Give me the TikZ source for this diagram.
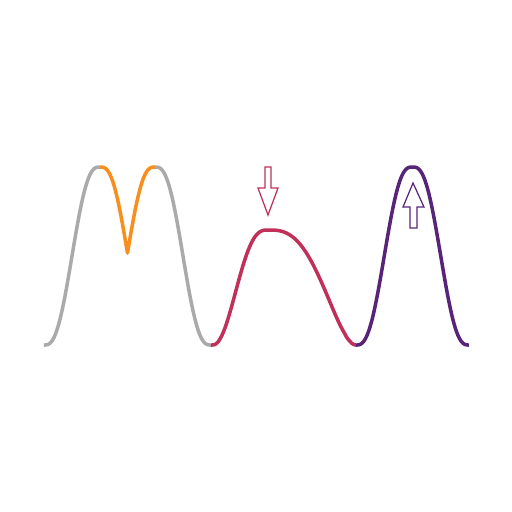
\documentclass[tikz,border=0pt]{standalone}
\usepackage{tikz}
\definecolor{peakgray}{RGB}{170,170,172}
\definecolor{splitorange}{RGB}{247,142,30}
\definecolor{broadred}{RGB}{192,48,88}
\definecolor{sharppurple}{RGB}{88,36,122}
\begin{document}
\begin{tikzpicture}[x=0.02cm, y=-0.02cm,
  declare function={bump(\t)=\t*\t*\t*(10-15*\t+6*\t*\t);},
  curve/.style={draw=#1, line width=2pt, line join=round},
  hollow/.style={draw=#1, line width=0.7pt, line join=miter, fill=white}]
  \useasboundingbox (0,0) rectangle (512,512);
  % split peak: grey flanks, orange top
  \draw[curve=peakgray] plot[domain=44:100, samples=50, smooth] (\x, {345-178*bump((\x-44)/56)});
  \draw[curve=peakgray] plot[domain=155:211, samples=50, smooth] (\x, {345-178*bump((211-\x)/56)});
  \draw[curve=splitorange] plot[domain=100:127.5, samples=30, smooth] (\x, {345-178*bump(1-(\x-100)/56)})
    -- plot[domain=127.5:155, samples=30, smooth] (\x, {345-178*bump(1-(155-\x)/56)});
  % broadened peak, leaning right
  \draw[curve=broadred] (211,345) -- plot[domain=212.05:268, samples=60, smooth] (\x, {345-115*bump(((\x-212)/56)^0.85)})
    -- plot[domain=268:355.95, samples=80, smooth] (\x, {345-115*bump(((356-\x)/88)^0.69)}) -- (356,345);
  % sharp peak
  \draw[curve=sharppurple] plot[domain=356:412.5, samples=50, smooth] (\x, {345-178*bump((\x-356)/56.5)})
    -- plot[domain=412.5:469, samples=50, smooth] (\x, {345-178*bump((469-\x)/56.5)});
  % markers
  \draw[hollow=broadred] (265,167) -- (271,167) -- (271,188) -- (278,188) -- (268,215)
    -- (258,188) -- (265,188) -- cycle;
  \draw[hollow=sharppurple] (413,183) -- (424,207) -- (417,207) -- (417,228) -- (410,228)
    -- (410,207) -- (403,207) -- cycle;
\end{tikzpicture}
\end{document}
